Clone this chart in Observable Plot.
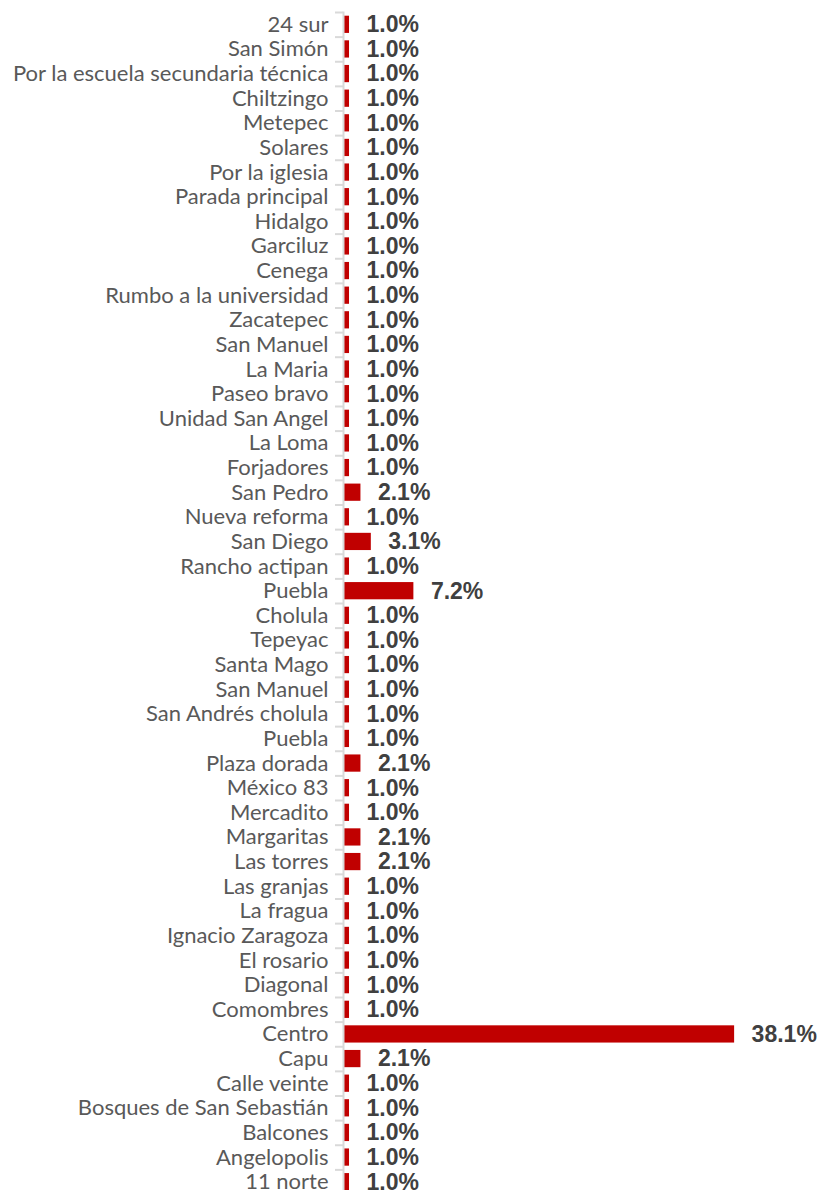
<!DOCTYPE html>
<html>
<head>
<meta charset="utf-8">
<script src="https://cdn.jsdelivr.net/npm/d3@7"></script>
<script src="https://cdn.jsdelivr.net/npm/@observablehq/plot@0.6"></script>
<style>
  html, body { margin: 0; padding: 0; background: #ffffff; }
  #chart { width: 821px; height: 1190px; overflow: hidden; }
</style>
</head>
<body>
<div id="chart"></div>
<script>
const names = [
  "24 sur", "San Simón", "Por la escuela secundaria técnica", "Chiltzingo", "Metepec",
  "Solares", "Por la iglesia", "Parada principal", "Hidalgo", "Garciluz",
  "Cenega", "Rumbo a la universidad", "Zacatepec", "San Manuel", "La Maria",
  "Paseo bravo", "Unidad San Angel", "La Loma", "Forjadores", "San Pedro",
  "Nueva reforma", "San Diego", "Rancho actipan", "Puebla", "Cholula",
  "Tepeyac", "Santa Mago", "San Manuel", "San Andrés cholula", "Puebla",
  "Plaza dorada", "México 83", "Mercadito", "Margaritas", "Las torres",
  "Las granjas", "La fragua", "Ignacio Zaragoza", "El rosario", "Diagonal",
  "Comombres", "Centro", "Capu", "Calle veinte", "Bosques de San Sebastián",
  "Balcones", "Angelopolis", "11 norte"
];
const values = [
  1.0, 1.0, 1.0, 1.0, 1.0,
  1.0, 1.0, 1.0, 1.0, 1.0,
  1.0, 1.0, 1.0, 1.0, 1.0,
  1.0, 1.0, 1.0, 1.0, 2.1,
  1.0, 3.1, 1.0, 7.2, 1.0,
  1.0, 1.0, 1.0, 1.0, 1.0,
  2.1, 1.0, 1.0, 2.1, 2.1,
  1.0, 1.0, 1.0, 1.0, 1.0,
  1.0, 38.1, 2.1, 1.0, 1.0,
  1.0, 1.0, 1.0
];

const data = names.map((n, i) => ({i, name: n, value: values[i]}));

const W = 821, H = 1190;
const marginTop = 12, marginBottom = -4;
const step = (H - marginTop - marginBottom) / names.length;

const chart = Plot.plot({
  width: W,
  height: H,
  marginTop,
  marginBottom,
  marginLeft: 343,
  marginRight: 0,
  style: {fontFamily: "Lato", background: "#ffffff"},
  x: {domain: [0.42, 46.47], axis: null},
  y: {domain: d3.range(names.length), paddingInner: 0.3, paddingOuter: 0.15, round: false, axis: null},
  marks: [
    Plot.barX(data, {y: "i", x: "value", fill: "#C00000", clip: true}),
    Plot.axisY({tickSize: 8, tickFormat: () => "", label: null, stroke: "#D9D9D9", strokeWidth: 2, dy: -step / 2}),
    Plot.frame({anchor: "left", stroke: "#D9D9D9", strokeWidth: 2}),
    Plot.axisY({tickSize: 0, tickPadding: 15, label: null, tickFormat: i => names[i], fill: "#595959", fontSize: 22, fontFamily: "Lato"}),
    Plot.text(data, {y: "i", x: "value", text: d => d.value.toFixed(1) + "%", textAnchor: "start", dx: 17,
      fill: "#404040", fontSize: 23, fontWeight: "bold", fontFamily: "Liberation Sans"})
  ]
});
document.getElementById("chart").appendChild(chart);
</script>
</body>
</html>
